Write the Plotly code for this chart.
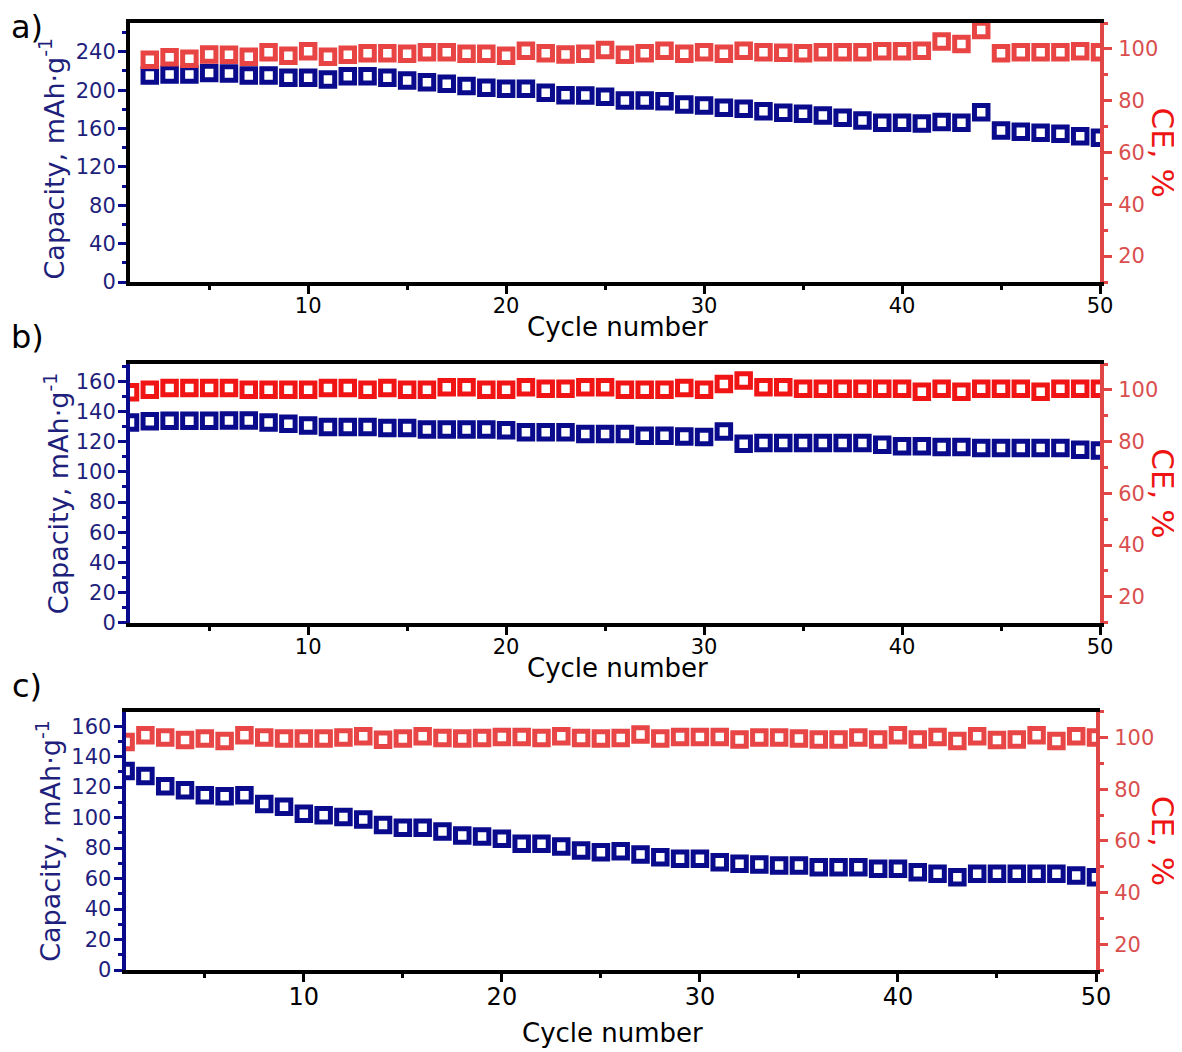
import plotly.graph_objects as go

# ---------------- data ----------------
cycles_a = list(range(2, 51))
cap_a = [215.3, 216.4, 216.4, 218.0, 217.4, 215.3, 215.3, 213.0, 213.0, 211.0, 214.6, 214.6,
         213.0,
         210.0, 208.3, 206.6, 204.2, 202.5, 201.4, 201.4, 197.3, 194.8, 194.5, 193.1, 189.3,
         189.3, 188.5, 185.1, 184.0, 181.7, 180.6, 178.1, 176.5,
         175.4, 173.6, 171.2, 168.4, 166.0, 166.0, 165.3, 166.7, 166.0, 177.0, 158.0, 156.7,
         155.6, 154.6, 152.0, 150.4]
ce_a = [95.8, 96.8, 96.2, 97.8, 97.7, 97.0, 98.7, 97.4, 99.1, 97.0, 97.7, 98.3,
        98.3,
        98.1, 98.7, 98.7, 98.1, 98.1, 97.4, 99.3, 98.3, 97.8, 98.1, 99.6, 97.7, 98.3, 99.3,
        98.1, 98.7, 98.1, 99.3, 98.7, 98.5,
        98.3, 98.7, 98.7, 98.7, 99.1, 99.1, 99.3, 102.9, 101.9, 107.3, 98.3, 98.7, 98.7,
        98.7, 99.1, 98.7]

cycles_b = list(range(1, 51))
cap_b = [132.8, 133.5, 133.9, 133.9, 133.9, 134.1, 134.1, 132.8, 131.9, 130.8, 129.7, 129.7, 129.7,
         129.1,
         129.1, 128.0, 128.0, 128.0, 128.0, 127.5, 126.2, 126.2, 126.2, 125.1, 125.1, 125.1,
         124.0, 124.0, 123.5, 123.1, 126.8, 118.7, 119.1, 119.1,
         119.1, 119.1, 119.1, 119.1, 118.0, 116.9, 116.9, 116.5, 116.5, 115.8, 115.8, 115.8,
         115.8, 115.8, 114.7, 114.2]
ce_b = [99.1, 100.0, 100.7, 100.7, 100.7, 100.7, 100.0, 100.0, 100.0, 100.0, 100.7, 100.7, 100.0,
        100.7,
        100.0, 100.0, 101.0, 101.0, 100.0, 100.0, 101.0, 100.4, 100.4, 101.0, 101.0, 100.0,
        100.0, 100.0, 100.7, 100.0, 102.3, 103.6, 101.0, 101.0,
        100.4, 100.4, 100.4, 100.4, 100.4, 100.4, 99.3, 100.4, 99.3, 100.4, 100.4, 100.4,
        99.3, 100.4, 100.4, 100.4]

cycles_c = list(range(1, 51))
cap_c = [130.6, 127.3, 120.5, 117.9, 114.6, 114.0, 114.6, 108.9, 107.1, 102.6, 101.5, 100.4, 98.7,
         95.2,
         93.4, 93.4, 90.9, 88.3, 87.6, 86.1, 82.8, 82.8, 81.1, 78.4, 77.3, 78.0, 75.8, 74.0,
         73.0, 73.0, 70.7, 69.7, 69.2, 68.6,
         68.6, 67.5, 67.5, 67.5, 66.4, 66.4, 64.2, 63.1, 60.9, 63.1, 63.1, 63.1, 63.1, 63.1,
         62.0, 60.9]
ce_c = [98.3, 100.9, 100.0, 99.0, 99.6, 98.7, 100.9, 100.0, 99.6, 99.6, 99.6, 100.0, 100.5,
        99.1,
        99.6, 100.5, 99.8, 99.6, 99.8, 100.2, 100.2, 99.8, 100.5, 99.8, 99.6, 99.8, 101.2,
        99.6, 100.2, 100.2, 100.2, 99.2, 100.0, 100.0,
        99.6, 99.2, 99.2, 100.0, 99.2, 100.9, 99.2, 100.2, 98.7, 100.5, 99.0, 99.2, 100.9,
        98.7, 100.5, 100.0]

panel_labels = ["a)", "b)", "c)"]
x_title = "Cycle number"
left_title = "Capacity, mAh·g<sup>-1</sup>"
right_title = "CE, %"

# ---------------- styling ----------------
OFF = 8                      # default page margin of the html body
W, H = 1182 - OFF, 1052 - OFF
FONT = "DejaVu Sans"
NAVY = "#0a0a8c"
NAVY_TXT = "#1f1f7c"
RED_AXIS = "#e04646"
RED_TXT = "#d94f4f"
RED_TITLE = "#ee1414"
red_marker = ["#e84444", "#f01414", "#e84646"]
AXLW = 4


def px_x(p):
    return (p - OFF) / W


def px_y(p):
    return 1 - (p - OFF) / H


# pixel boxes in the page: (left, right, top, bottom)
boxes = [(130, 1100, 23, 282), (130, 1100, 364, 622.7), (125.6, 1096, 711.7, 970)]
left_ranges = [[0, 270], [0, 171.5], [0, 169.5]]
left_dticks = [40, 20, 20]
left_line_colors = ["black", NAVY, NAVY]
xtick_sizes = [21, 21, 24]

datasets = [(cycles_a, cap_a, ce_a), (cycles_b, cap_b, ce_b), (cycles_c, cap_c, ce_c)]

fig = go.Figure()
layout = dict(
    width=W, height=H,
    margin=dict(l=0, r=0, t=0, b=0),
    paper_bgcolor="white", plot_bgcolor="white",
    font=dict(family=FONT, size=21, color="black"),
    showlegend=False,
)
annotations = []

for i, (cyc, cap, ce) in enumerate(datasets):
    xa = "x" if i == 0 else f"x{i + 1}"
    yl_n = 2 * i + 1
    yr_n = 2 * i + 2
    yl = "y" if yl_n == 1 else f"y{yl_n}"
    yr = f"y{yr_n}"
    L, R, T, B = boxes[i]

    fig.add_trace(go.Scatter(
        x=cyc, y=cap, xaxis=xa, yaxis=yl, mode="markers",
        marker=dict(symbol="square-open", size=13.5, color=NAVY, line=dict(width=5, color=NAVY)),
    ))
    fig.add_trace(go.Scatter(
        x=cyc, y=ce, xaxis=xa, yaxis=yr, mode="markers",
        marker=dict(symbol="square-open", size=13.5, color=red_marker[i],
                    line=dict(width=5, color=red_marker[i])),
    ))

    xkey = "xaxis" if i == 0 else f"xaxis{i + 1}"
    ylkey = "yaxis" if yl_n == 1 else f"yaxis{yl_n}"
    yrkey = f"yaxis{yr_n}"

    layout[xkey] = dict(
        domain=[px_x(L), px_x(R)], anchor=yl, range=[1, 50],
        tick0=0, dtick=10, ticks="outside", ticklen=8, tickwidth=3, tickcolor="black",
        showline=True, linecolor="black", linewidth=AXLW, mirror=True,
        showgrid=False, zeroline=False,
        tickfont=dict(size=xtick_sizes[i], color="black"),
        ticklabelstandoff=-6,
        minor=dict(dtick=5, tick0=0, ticks="outside", ticklen=4, tickwidth=3, tickcolor="black",
                   showgrid=False),
        automargin=False,
    )
    layout[ylkey] = dict(
        domain=[px_y(B), px_y(T)], anchor=xa, range=left_ranges[i],
        tick0=0, dtick=left_dticks[i], ticks="outside", ticklen=8, tickwidth=3,
        tickcolor=NAVY, showline=True, linecolor=left_line_colors[i], linewidth=AXLW,
        showgrid=False, zeroline=False,
        tickfont=dict(size=21, color=NAVY_TXT),
        ticklabelstandoff=-2,
        minor=dict(dtick=left_dticks[i] / 2, tick0=0, ticks="outside", ticklen=4, tickwidth=3,
                   tickcolor=NAVY, showgrid=False),
        automargin=False,
    )
    layout[yrkey] = dict(
        overlaying=yl, side="right", anchor=xa, range=[10, 110],
        tick0=0, dtick=20, ticks="outside", ticklen=8, tickwidth=3, tickcolor=RED_AXIS,
        showline=True, linecolor=RED_AXIS, linewidth=AXLW,
        showgrid=False, zeroline=False,
        tickfont=dict(size=21, color=RED_TXT),
        ticklabelstandoff=2,
        minor=dict(dtick=10, tick0=0, ticks="outside", ticklen=4, tickwidth=3,
                   tickcolor=RED_AXIS, showgrid=False),
        automargin=False,
    )

    cy = (T + B) / 2
    # panel label
    label_y = [27, 337, 686][i]
    annotations.append(dict(text=panel_labels[i], xref="paper", yref="paper",
                            x=px_x(27), y=px_y(label_y), xanchor="center", yanchor="middle",
                            showarrow=False, font=dict(size=32, color="black")))
    # x title
    xt_top = [310, 650.7, 1016][i]
    annotations.append(dict(text=x_title, xref="paper", yref="paper",
                            x=px_x((L + R) / 2 + 2), y=px_y(xt_top), xanchor="center", yanchor="top",
                            showarrow=False, font=dict(size=26, color="black")))
    # left title
    lt_x = [52, 56, 49][i]
    lt_dy = [6, 0, 0][i]
    annotations.append(dict(text=left_title, xref="paper", yref="paper", textangle=-90,
                            x=px_x(lt_x), y=px_y(cy + lt_dy), xanchor="center", yanchor="middle",
                            showarrow=False, font=dict(size=27, color=NAVY_TXT)))
    # right title
    annotations.append(dict(text=right_title, xref="paper", yref="paper", textangle=90,
                            x=px_x(1163), y=px_y(cy), xanchor="center", yanchor="middle",
                            showarrow=False, font=dict(size=31, color=RED_TITLE)))

layout["annotations"] = annotations
fig.update_layout(**layout)
fig.write_html("out.html")
